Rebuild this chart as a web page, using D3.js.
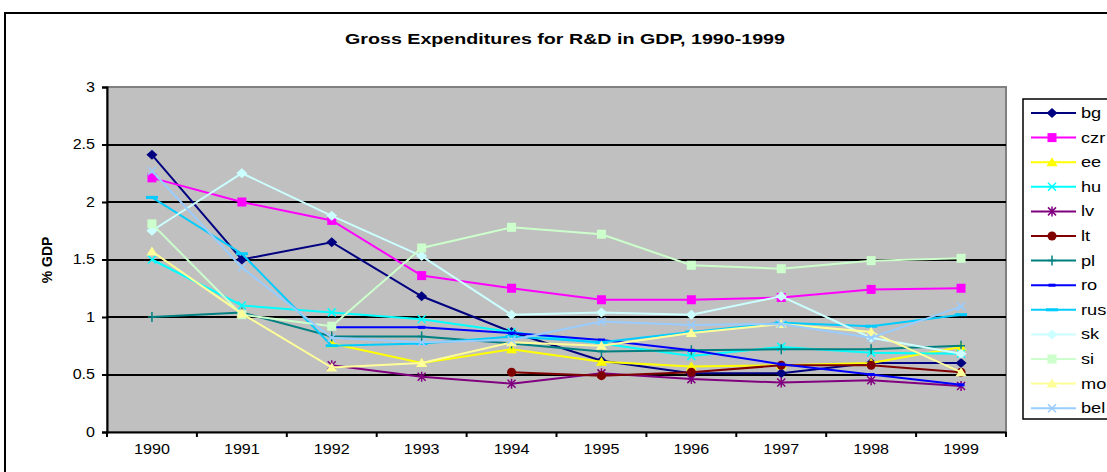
<!DOCTYPE html>
<html>
<head>
<meta charset="utf-8">
<script src="https://cdn.jsdelivr.net/npm/d3@7"></script>
<style>
  body { margin: 0; background: #fff; }
  text { font-family: "Liberation Sans", Arial, sans-serif; }
</style>
</head>
<body>
<svg id="chart" width="1107" height="472"></svg>
<script>
// Years on the x axis
var years = ["1990", "1991", "1992", "1993", "1994", "1995", "1996", "1997", "1998", "1999"];
var yTicks = [0, 0.5, 1, 1.5, 2, 2.5, 3];

// One array per country (null = no data)
var bg  = [2.41, 1.50, 1.65, 1.18, 0.87, 0.62, 0.51, 0.51, 0.60, 0.60];
var czr = [2.21, 2.00, 1.84, 1.36, 1.25, 1.15, 1.15, 1.17, 1.24, 1.25];
var ee  = [null, null, 0.77, 0.60, 0.72, 0.61, 0.57, 0.58, 0.60, 0.74];
var hu  = [1.50, 1.10, 1.04, 0.98, 0.87, 0.77, 0.66, 0.74, 0.69, 0.68];
var lv  = [null, null, 0.58, 0.48, 0.42, 0.51, 0.46, 0.43, 0.45, 0.40];
var lt  = [null, null, null, null, 0.52, 0.49, 0.52, 0.58, 0.58, 0.52];
var pl  = [1.00, 1.04, 0.83, 0.83, 0.77, 0.70, 0.71, 0.72, 0.72, 0.75];
var ro  = [null, null, 0.91, 0.91, 0.86, 0.80, 0.71, 0.59, 0.50, 0.41];
var rus = [2.04, 1.55, 0.75, 0.77, 0.83, 0.78, 0.87, 0.95, 0.92, 1.02];
var sk  = [1.75, 2.25, 1.88, 1.53, 1.02, 1.04, 1.02, 1.18, 0.82, 0.68];
var si  = [1.81, 1.02, 0.92, 1.60, 1.78, 1.72, 1.45, 1.42, 1.49, 1.51];
var mol = [1.57, 1.03, 0.56, 0.60, 0.78, 0.75, 0.86, 0.94, 0.87, 0.52];
var bel = [2.27, 1.43, 0.82, 0.78, 0.80, 0.96, 0.93, 0.94, 0.82, 1.09];

var names   = ["bg", "czr", "ee", "hu", "lv", "lt", "pl", "ro", "rus", "sk", "si", "mol", "bel"];
var values  = [bg, czr, ee, hu, lv, lt, pl, ro, rus, sk, si, mol, bel];
var colors  = ["#000080", "#FF00FF", "#FFFF00", "#00FFFF", "#800080", "#800000", "#008080",
               "#0000FF", "#00CCFF", "#CCFFFF", "#CCFFCC", "#FFFF99", "#99CCFF"];
var markers = ["diamond", "square", "triangle", "x", "star", "circle", "plus",
               "dash", "dash2", "diamond", "square", "triangle", "x"];

var svg = d3.select("#chart");

var plotLeft = 107, plotRight = 1006, plotTop = 87, plotBottom = 432;

var x = d3.scaleBand().domain(years).range([plotLeft, plotRight]).padding(0);
var y = d3.scaleLinear().domain([0, 3]).range([plotBottom, plotTop]);

// the source picture is stretched sideways a little
function stretch(sel, k) {
    sel.each(function () {
        var w = this.getComputedTextLength();
        d3.select(this).attr("textLength", w * k).attr("lengthAdjust", "spacingAndGlyphs");
    });
}

// outer chart frame
svg.append("rect")
    .attr("x", 5).attr("y", 13)
    .attr("width", 1120).attr("height", 480)
    .attr("fill", "#fff").attr("stroke", "#000").attr("stroke-width", 2);

// title
svg.append("text")
    .attr("x", 565).attr("y", 44)
    .attr("text-anchor", "middle")
    .attr("font-size", 15).attr("font-weight", "bold")
    .attr("textLength", 440).attr("lengthAdjust", "spacingAndGlyphs")
    .text("Gross Expenditures for R&D in GDP, 1990-1999");

// plot background
svg.append("rect")
    .attr("x", plotLeft).attr("y", plotTop)
    .attr("width", plotRight - plotLeft).attr("height", plotBottom - plotTop)
    .attr("fill", "#C0C0C0").attr("stroke", "#808080").attr("stroke-width", 2);

// gridlines
svg.append("g").selectAll("line")
    .data(yTicks.slice(1, -1))
    .enter().append("line")
    .attr("x1", plotLeft).attr("x2", plotRight)
    .attr("y1", function (d) { return Math.round(y(d)); })
    .attr("y2", function (d) { return Math.round(y(d)); })
    .attr("stroke", "#000").attr("stroke-width", 2);

// y axis
var yAxis = svg.append("g")
    .attr("transform", "translate(" + plotLeft + ",0)")
    .call(d3.axisLeft(y).tickValues(yTicks).tickSize(5).tickPadding(7)
        .tickFormat(function (d) { return d; }));
yAxis.selectAll("text").attr("font-size", 14).attr("font-family", "Liberation Sans, Arial, sans-serif").attr("fill", "#000");
yAxis.selectAll("line, path").attr("stroke", "#000").attr("stroke-width", 2);
stretch(yAxis.selectAll("text"), 1.15);

// x axis, ticks between categories
var xAxis = svg.append("g")
    .attr("transform", "translate(0," + plotBottom + ")")
    .call(d3.axisBottom(x).tickSize(0).tickPadding(12));
xAxis.selectAll("text").attr("font-size", 14).attr("font-family", "Liberation Sans, Arial, sans-serif").attr("fill", "#000");
xAxis.select("path").attr("stroke", "#000").attr("stroke-width", 2);
stretch(xAxis.selectAll("text"), 1.15);
xAxis.selectAll(".sep")
    .data(d3.range(years.length + 1))
    .enter().append("line")
    .attr("x1", function (i) { return plotLeft + i * x.bandwidth(); })
    .attr("x2", function (i) { return plotLeft + i * x.bandwidth(); })
    .attr("y1", 0).attr("y2", 5)
    .attr("stroke", "#000").attr("stroke-width", 2);

// y label
svg.append("text")
    .attr("transform", "translate(52,260) rotate(-90)")
    .attr("text-anchor", "middle")
    .attr("font-size", 14).attr("font-weight", "bold")
    .text("% GDP");

// marker drawing
function drawMarker(g, type, color, cx, cy) {
    var t = "translate(" + cx + "," + cy + ")";
    if (type === "diamond") {
        g.append("path").attr("d", "M0,-5L5.5,0L0,5L-5.5,0Z").attr("transform", t).attr("fill", color);
    } else if (type === "square") {
        g.append("rect").attr("x", cx - 4.5).attr("y", cy - 4.5).attr("width", 9).attr("height", 9).attr("fill", color);
    } else if (type === "triangle") {
        g.append("path").attr("d", "M0,-5L5.5,4L-5.5,4Z").attr("transform", t).attr("fill", color);
    } else if (type === "circle") {
        g.append("circle").attr("cx", cx).attr("cy", cy).attr("r", 4.5).attr("fill", color);
    } else if (type === "x" || type === "star" || type === "plus") {
        var p = "";
        if (type !== "plus") p += "M-4,-4L4,4M-4,4L4,-4";
        if (type === "star") p += "M0,-5L0,5";
        if (type === "plus") p += "M0,-5L0,5M-4,0L4,0";
        g.append("path").attr("d", p).attr("transform", t)
            .attr("stroke", color).attr("stroke-width", 1.5).attr("fill", "none");
    } else if (type === "dash") {
        g.append("rect").attr("x", cx - 3.5).attr("y", cy - 1.5).attr("width", 7).attr("height", 3).attr("fill", color);
    } else if (type === "dash2") {
        g.append("rect").attr("x", cx - 6).attr("y", cy - 1.5).attr("width", 12).attr("height", 3).attr("fill", color);
    }
}

var line = d3.line()
    .defined(function (d) { return d != null; })
    .x(function (d, i) { return x(years[i]) + x.bandwidth() / 2; })
    .y(function (d) { return y(d); });

// series
names.forEach(function (name, k) {
    var g = svg.append("g");
    g.append("path")
        .attr("d", line(values[k]))
        .attr("fill", "none")
        .attr("stroke", colors[k])
        .attr("stroke-width", 2);
    values[k].forEach(function (v, i) {
        if (v == null) return;
        drawMarker(g, markers[k], colors[k], x(years[i]) + x.bandwidth() / 2, y(v));
    });
});

// legend
var lg = svg.append("g");
lg.append("rect")
    .attr("x", 1023).attr("y", 99)
    .attr("width", 120).attr("height", 320)
    .attr("fill", "#fff").attr("stroke", "#000").attr("stroke-width", 1.5);
names.forEach(function (name, k) {
    var ly = 113 + k * 24.6;
    lg.append("line")
        .attr("x1", 1031).attr("x2", 1076)
        .attr("y1", ly).attr("y2", ly)
        .attr("stroke", colors[k]).attr("stroke-width", 2);
    drawMarker(lg, markers[k], colors[k], 1052, ly);
    var t = lg.append("text")
        .attr("x", 1081).attr("y", ly + 5)
        .attr("font-size", 14)
        .text(name);
    stretch(t, 1.3);
});
</script>
</body>
</html>
